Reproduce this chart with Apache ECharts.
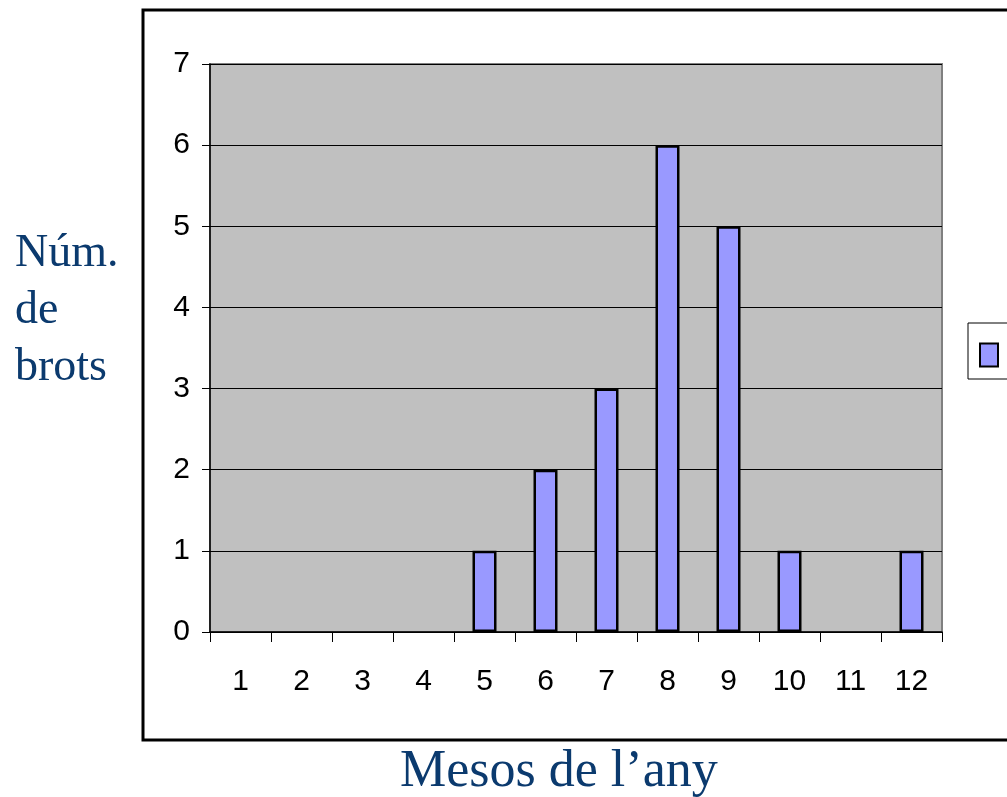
<!DOCTYPE html>
<html>
<head>
<meta charset="utf-8">
<script src="https://cdn.jsdelivr.net/npm/echarts@6/dist/echarts.min.js"></script>
<style>
  html, body { margin: 0; padding: 0; background: #ffffff; }
  #chart { width: 1007px; height: 797px; }
</style>
</head>
<body>
<div id="chart"></div>
<script>
// Months of the year and number of outbreaks per month
const months = ['1', '2', '3', '4', '5', '6', '7', '8', '9', '10', '11', '12'];
const outbreaks = [0, 0, 0, 0, 1, 2, 3, 6, 5, 1, 0, 1];
const yTicks = { min: 0, max: 7, interval: 1 };

const titleColor = '#0b3a6e';
const chart = echarts.init(document.getElementById('chart'), null, { renderer: 'canvas' });

// Months without outbreaks get no visible bar outline
const barData = outbreaks.map(v => v === 0
  ? { value: v, itemStyle: { opacity: 0 } }
  : v);

chart.setOption({
  animation: false,
  backgroundColor: '#ffffff',
  grid: {
    left: 210, right: 65, top: 64, bottom: 165,
    show: true,
    backgroundColor: '#c0c0c0',
    borderColor: '#808080',
    borderWidth: 2
  },
  legend: {
    left: 968, top: 323,
    orient: 'vertical',
    backgroundColor: '#ffffff',
    borderColor: '#000000',
    borderWidth: 1,
    borderRadius: 0,
    padding: [19, 60, 11, 11],
    icon: 'rect',
    itemWidth: 18,
    itemHeight: 23,
    textStyle: { fontSize: 26, fontFamily: 'Liberation Sans', padding: [0, 0, 0, 30], color: '#000' },
    data: ['Sèrie1']
  },
  xAxis: {
    type: 'category',
    data: months,
    boundaryGap: true,
    axisLine: { lineStyle: { color: '#000000', width: 1.5 } },
    axisTick: { show: true, length: 10, alignWithLabel: false, lineStyle: { color: '#000', width: 1 } },
    axisLabel: { fontSize: 30, fontFamily: 'Liberation Sans', color: '#000', margin: 35 },
    splitLine: { show: false }
  },
  yAxis: {
    type: 'value',
    min: yTicks.min, max: yTicks.max, interval: yTicks.interval,
    axisLine: { show: true, lineStyle: { color: '#000000', width: 1.5 } },
    axisTick: { show: true, length: 8, lineStyle: { color: '#000', width: 1 } },
    axisLabel: { fontSize: 30, fontFamily: 'Liberation Sans', color: '#000', margin: 20 },
    splitLine: { show: true, lineStyle: { color: '#000000', width: 1 } }
  },
  series: [{
    name: 'Sèrie1',
    type: 'bar',
    data: barData,
    barWidth: 24,
    itemStyle: { color: '#9999ff', borderColor: '#000000', borderWidth: 2.5 }
  }],
  graphic: [
    {
      type: 'rect',
      shape: { x: 143, y: 10, width: 900, height: 730 },
      style: { fill: null, stroke: '#000000', lineWidth: 3 },
      z: -1
    },
    {
      type: 'text',
      left: 15, top: 225,
      style: {
        text: 'Núm.\nde\nbrots',
        font: '46px "Liberation Serif"',
        lineHeight: 57,
        fill: titleColor
      }
    },
    {
      type: 'text',
      left: 400, top: 746,
      style: {
        text: 'Mesos de l\u2019any',
        font: '52px "Liberation Serif"',
        fill: titleColor
      }
    }
  ]
});
</script>
</body>
</html>
